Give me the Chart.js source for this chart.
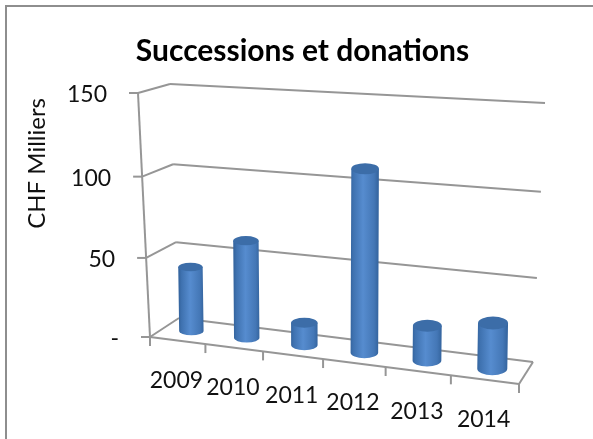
<!DOCTYPE html>
<html lang="fr">
<head>
<meta charset="UTF-8">
<title>Successions et donations</title>
<script src="https://cdn.jsdelivr.net/npm/chart.js@4.4.9/dist/chart.umd.js"></script>
<style>
    html, body { margin: 0; padding: 0; background: #fff; overflow: hidden; }
    #wrap { position: relative; width: 593px; height: 439px; }
    #wrap::before {
        content: ""; position: absolute; left: 5px; top: 5px; right: 0; bottom: 0;
        border-left: 2px solid #8e8e8e; border-top: 2px solid #8e8e8e;
    }
    #chart { filter: blur(0.3px); }
</style>
</head>
<body>
<div id="wrap"><canvas id="chart" width="593" height="439"></canvas></div>
<script>
const years = ['2009', '2010', '2011', '2012', '2013', '2014'];
const amounts = [41, 61, 14, 110, 21, 27];
const yTicks = [0, 50, 100, 150];

const fontName = 'Lato, "Open Sans", sans-serif';
const gridColor = '#969696';

// box corners of the 3D frame, the scales are mapped into this
const floorFL = [150, 337], floorFR = [519, 384], floorBL = [179, 318], floorBR = [533, 362];
const topFL = [138, 93], topFR = [533, 112], topBL = [170, 84], topBR = [545, 103];

// perspective: things on the right and up are a bit closer
function warp(t, c) { return t / (1 + c * (1 - t)); }
function mix(a, b, t) { return [a[0] + (b[0] - a[0]) * t, a[1] + (b[1] - a[1]) * t]; }

// u along the category axis, v up the value axis, d into depth (all 0..1)
function project(u, v, d) {
    const wu = warp(u, 0.132), wv = warp(v, 0.043);
    const bottom = mix(mix(floorFL, floorFR, wu), mix(floorBL, floorBR, wu), d);
    const top = mix(mix(topFL, topFR, wu), mix(topBL, topBR, wu), d);
    return mix(bottom, top, wv);
}

function line(ctx, a, b) {
    ctx.beginPath();
    ctx.moveTo(a[0], a[1]);
    ctx.lineTo(b[0], b[1]);
    ctx.stroke();
}

const box3d = {
    id: 'box3d',
    beforeDatasetsDraw(chart) {
        const { ctx, chartArea, scales } = chart;
        const fracU = px => (px - chartArea.left) / chartArea.width;
        const fracV = val => (chartArea.bottom - scales.y.getPixelForValue(val)) / chartArea.height;

        ctx.save();
        ctx.strokeStyle = gridColor;
        ctx.lineWidth = 2;
        ctx.lineJoin = 'round';

        // walls and value ticks
        scales.y.ticks.forEach(t => {
            const v = fracV(t.value);
            const fl = project(0, v, 0), bl = project(0, v, 1), br = project(1, v, 1);
            line(ctx, fl, bl);
            line(ctx, bl, br);
            line(ctx, [fl[0] - 9, fl[1]], fl);
            ctx.fillStyle = '#111';
            ctx.font = '23px ' + fontName;
            ctx.textAlign = 'right';
            ctx.textBaseline = 'middle';
            ctx.fillText(t.label, fl[0] - 31, fl[1] + 2);
        });
        line(ctx, project(0, 0, 0), project(0, 1, 0));

        // floor
        line(ctx, floorFL, floorFR);
        line(ctx, floorFR, floorBR);

        // category ticks
        const n = years.length;
        for (let i = 0; i <= n; i++) {
            const p = project(i / n, 0, 0);
            line(ctx, p, [p[0], p[1] + 9]);
        }

        // category labels step down along the front edge
        ctx.fillStyle = '#111';
        ctx.font = '23px ' + fontName;
        ctx.textAlign = 'center';
        ctx.textBaseline = 'middle';
        scales.x.ticks.forEach((t, i) => {
            const p = project(fracU(scales.x.getPixelForTick(i)), 0, 0);
            ctx.fillText(t.label, p[0] - 1, p[1] + 40);
        });
        ctx.restore();
    },
    beforeDatasetDraw(chart, args) {
        const { ctx, chartArea } = chart;
        const meta = args.meta;
        meta.data.forEach(bar => {
            const uc = (bar.x - chartArea.left) / chartArea.width;
            const du = bar.width / 2 / chartArea.width;
            const v = (chartArea.bottom - bar.y) / chartArea.height;
            const base = project(uc, 0, 0.5), top = project(uc, v, 0.5);
            // the cylinders lean less than the walls do
            top[0] = base[0] + (top[0] - base[0]) * 0.4;
            const rx = (project(uc + du, 0, 0.5)[0] - project(uc - du, 0, 0.5)[0]) / 2;
            const ry = rx * (0.34 + 0.1 * uc);

            const grad = ctx.createLinearGradient(base[0] - rx, 0, base[0] + rx, 0);
            grad.addColorStop(0, '#35659f');
            grad.addColorStop(0.1, '#3f72b0');
            grad.addColorStop(0.45, '#568ccf');
            grad.addColorStop(0.85, '#4477b6');
            grad.addColorStop(1, '#35659f');

            ctx.save();
            ctx.beginPath();
            ctx.moveTo(top[0] - rx, top[1]);
            ctx.lineTo(base[0] - rx, base[1]);
            ctx.ellipse(base[0], base[1], rx, ry, 0, Math.PI, 0, true);
            ctx.lineTo(top[0] + rx, top[1]);
            ctx.closePath();
            ctx.fillStyle = grad;
            ctx.fill();

            ctx.beginPath();
            ctx.ellipse(top[0], top[1], rx, ry, 0, 0, Math.PI * 2);
            ctx.fillStyle = '#3c6da8';
            ctx.fill();
            ctx.restore();
        });
        return false;
    }
};

new Chart(document.getElementById('chart'), {
    type: 'bar',
    data: {
        labels: years,
        datasets: [{
            label: 'Successions et donations',
            data: amounts,
            backgroundColor: '#4f81bd',
            categoryPercentage: 1,
            barPercentage: 0.45
        }]
    },
    plugins: [box3d],
    options: {
        responsive: false,
        animation: false,
        layout: { padding: { left: 12, top: 33 } },
        plugins: {
            legend: { display: false },
            tooltip: { enabled: false },
            title: {
                display: true,
                text: 'Successions et donations',
                color: '#000',
                font: { family: fontName, size: 30, weight: 'bold' },
                padding: { top: 0, bottom: 29 }
            }
        },
        scales: {
            x: { display: false },
            y: {
                min: 0,
                max: 150,
                afterBuildTicks(axis) { axis.ticks = yTicks.map(v => ({ value: v })); },
                afterFit(axis) { axis.width = 138; },
                grid: { display: false },
                border: { display: false },
                ticks: { display: false, callback: v => (v === 0 ? '-' : v) },
                title: {
                    display: true,
                    text: 'CHF Milliers',
                    align: 'end',
                    color: '#111',
                    font: { family: fontName, size: 24 },
                    padding: { top: 11, bottom: 0 }
                }
            }
        }
    }
});
</script>
</body>
</html>
